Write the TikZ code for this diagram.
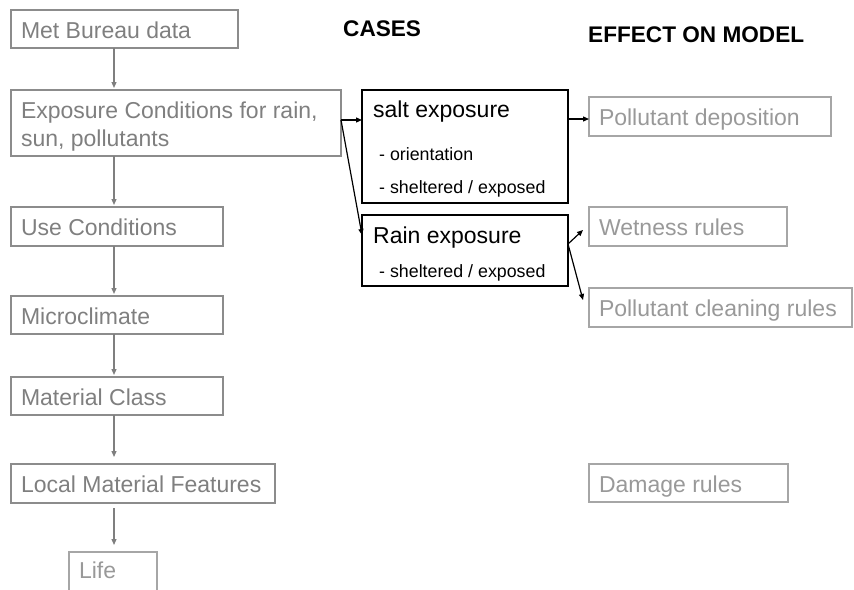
\documentclass[tikz,border=0pt]{standalone}
\usepackage{fontspec}
\setmainfont{Liberation Sans}
\usetikzlibrary{arrows.meta}
\definecolor{ltxt}{HTML}{7F7F7F}
\definecolor{lbrd}{HTML}{8C8C8C}
\definecolor{rtxt}{HTML}{999999}
\definecolor{rbrd}{HTML}{A6A6A6}
\newcommand\mylbox[2]{\makebox[#1][l]{#2}}
\begin{document}
\begin{tikzpicture}[x=1pt,y=-1pt,
  lbox/.style={draw=lbrd, line width=1.4pt, text=ltxt, anchor=north west,
    font=\fontsize{23}{28.5}\selectfont, inner xsep=10pt, inner ysep=0pt, outer sep=0pt,
    text height=18.6pt, text depth=0pt},
  rbox/.style={lbox, draw=rbrd, text=rtxt, line width=1.2pt},
  bbox/.style={draw=black, line width=1.2pt, anchor=north west, inner sep=0pt, outer sep=0pt},
  btxt/.style={anchor=base west, inner sep=0pt, text=black},
  bigt/.style={font=\fontsize{23}{28}\selectfont},
  smallt/.style={font=\fontsize{17.8}{21}\selectfont},
  head/.style={anchor=base west, inner sep=0pt, font=\fontsize{22.6}{27}\selectfont\bfseries},
  garrow/.style={draw=ltxt, line width=1.2pt, -{Triangle[length=6pt,width=5pt]}},
  barrow/.style={draw=black, line width=1.2pt, -{Triangle[length=6pt,width=5pt]}}]
\useasboundingbox (0,0) rectangle (854,589);
\clip (0,0) rectangle (854,589);

% headers
\node[head] (cases) at (343,36) {CASES};
\node[head] (effect) at (588,42.5) {EFFECT ON MODEL};

% left column
\node[lbox, minimum height=38pt] (met) at (11,10) {\mylbox{207pt}{Met Bureau data}};
\node[lbox, minimum height=66pt, align=left, text height=47.4pt] (exp) at (11,90)
  {\mylbox{310pt}{Exposure Conditions for rain,}\\\mylbox{310pt}{sun, pollutants}};
\node[lbox, minimum height=39pt] (use) at (11,207) {\mylbox{192pt}{Use Conditions}};
\node[lbox, minimum height=38pt] (micro) at (11,296) {\mylbox{192pt}{Microclimate}};
\node[lbox, minimum height=38pt] (mat) at (11,377) {\mylbox{192pt}{Material Class}};
\node[lbox, minimum height=39pt] (local) at (11,464) {\mylbox{244pt}{Local Material Features}};
\node[rbox, minimum height=42pt, text height=10pt] (life) at (69,552) {\mylbox{68pt}{Life}};

% cases
\node[bbox, minimum width=206pt, minimum height=113pt] (salt) at (362,90) {};
\node[btxt, bigt] (salt1) at (373,117) {salt exposure};
\node[btxt, smallt] (salt2) at (379,160) {- orientation};
\node[btxt, smallt] (salt3) at (379,193) {- sheltered / exposed};
\node[bbox, minimum width=206pt, minimum height=71pt] (rain) at (362,215) {};
\node[btxt, bigt] (rain1) at (373,243) {Rain exposure};
\node[btxt, smallt] (rain2) at (379,277) {- sheltered / exposed};

% effects
\node[rbox, minimum height=39pt] (pd) at (589,97) {\mylbox{222pt}{Pollutant deposition}};
\node[rbox, minimum height=39pt] (wet) at (589,207) {\mylbox{178pt}{Wetness rules}};
\node[rbox, minimum height=39pt] (clean) at (589,288) {\mylbox{243pt}{Pollutant cleaning rules}};
\node[rbox, minimum height=38pt] (dmg) at (589,464) {\mylbox{179pt}{Damage rules}};

% gray chain
\coordinate (ax) at (114,0);
\draw[garrow, shorten >=2pt] (met.south -| ax) -- (exp.north -| ax);
\draw[garrow, shorten >=2pt] (exp.south -| ax) -- (use.north -| ax);
\draw[garrow, shorten >=2pt] (use.south -| ax) -- (micro.north -| ax);
\draw[garrow, shorten >=2pt] (micro.south -| ax) -- (mat.north -| ax);
\draw[garrow, shorten >=7pt] (mat.south -| ax) -- (local.north -| ax);
\draw[garrow, shorten <=5pt, shorten >=7pt] (local.south -| ax) -- (life.north -| ax);

% black arrows
\coordinate (ex) at ([yshift=3pt]exp.east);
\draw[barrow] (ex) -- (ex -| salt.west);
\draw[barrow] (ex) -- ([yshift=15.5pt]rain.west);
\coordinate (se) at ([yshift=27.5pt]salt.east);
\draw[barrow] (se) -- (se -| pd.west);
\coordinate (rs) at ([yshift=6.5pt]rain.east);
\draw[barrow] (rs) -- ([xshift=-6pt,yshift=-3.5pt]wet.west);
\draw[barrow] (rs) -- ([xshift=-6pt,yshift=7.5pt]clean.west);
\end{tikzpicture}
\end{document}
